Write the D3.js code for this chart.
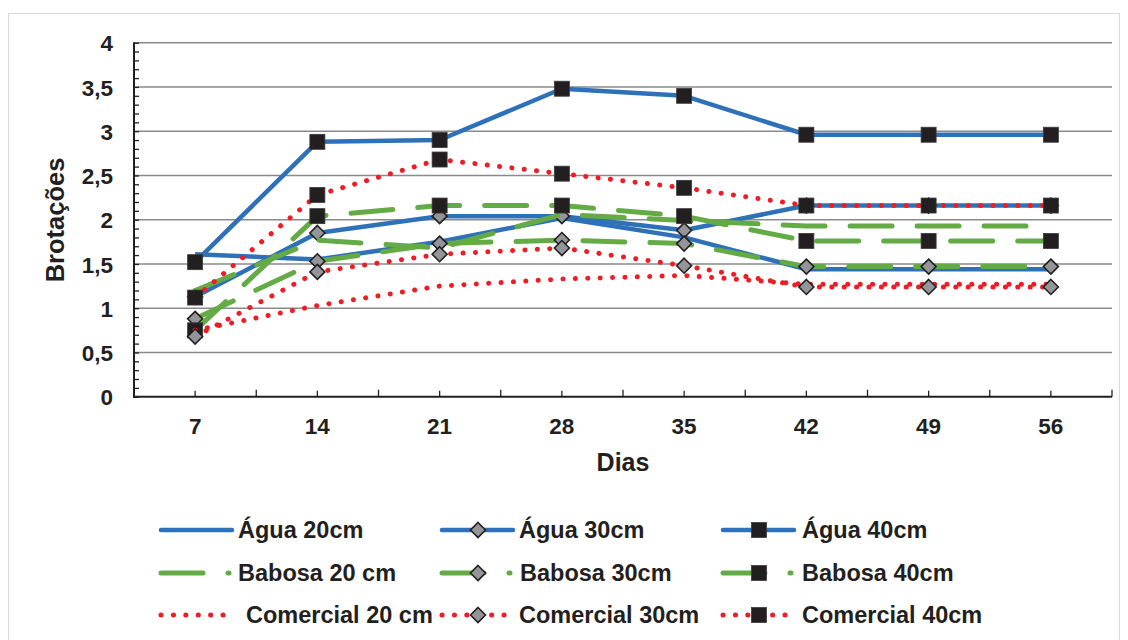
<!DOCTYPE html>
<html>
<head>
<meta charset="utf-8">
<script src="https://cdn.jsdelivr.net/npm/d3@7"></script>
<style>
  html, body { margin: 0; padding: 0; background: #fff; }
  svg text { font-family: "Liberation Sans", Arial, sans-serif; font-weight: bold; fill: #231f20; }
</style>
</head>
<body>
<svg id="chart" width="1128" height="640"></svg>
<script>
// ---- data ----
const days = ["7", "14", "21", "28", "35", "42", "49", "56"];
const yTicks = [0, 0.5, 1, 1.5, 2, 2.5, 3, 3.5, 4];
const yTickLabels = ["0", "0,5", "1", "1,5", "2", "2,5", "3", "3,5", "4"];

const agua20 = [1.61, 1.55, 1.75, 2.02, 1.80, 1.44, 1.44, 1.44];
const agua30 = [1.13, 1.85, 2.04, 2.04, 1.88, 2.16, 2.16, 2.16];
const agua40 = [1.52, 2.88, 2.90, 3.48, 3.40, 2.96, 2.96, 2.96];
const babosa20 = [1.20, 1.77, 1.68, 2.06, 1.99, 1.93, 1.93, 1.93];
const babosa30 = [0.88, 1.53, 1.73, 1.77, 1.73, 1.47, 1.47, 1.47];
const babosa40 = [0.75, 2.04, 2.16, 2.16, 2.04, 1.76, 1.76, 1.76];
const comercial20 = [0.75, 1.03, 1.25, 1.33, 1.37, 1.27, 1.27, 1.27];
const comercial30 = [0.68, 1.41, 1.61, 1.68, 1.48, 1.24, 1.24, 1.24];
const comercial40 = [1.12, 2.28, 2.68, 2.52, 2.36, 2.16, 2.16, 2.16];

const seriesNames = ["Água 20cm", "Água 30cm", "Água 40cm",
  "Babosa 20 cm", "Babosa 30cm", "Babosa 40cm",
  "Comercial 20 cm", "Comercial 30cm", "Comercial 40cm"];
const seriesValues = [agua20, agua30, agua40, babosa20, babosa30, babosa40, comercial20, comercial30, comercial40];

// ---- styles ----
const BLUE = "#2e71b8", GREEN = "#64ab46", RED = "#ee1c25";
const styleOf = i => {
  const fam = Math.floor(i / 3), size = i % 3;
  const base = fam === 0 ? { color: BLUE, width: 4.5, dash: null }
    : fam === 1 ? { color: GREEN, width: 5, dash: "42,25" }
    : { color: RED, width: 5, dash: "0.1,12.3" };
  return Object.assign({}, base, { marker: size === 0 ? null : size === 1 ? "diamond" : "square" });
};

const svg = d3.select("#chart");
const pL = 134, pR = 1112, pT = 42.7, pB = 396.7;

// outer frame
svg.append("rect").attr("x", 8.5).attr("y", 13.5).attr("width", 1111).attr("height", 640)
  .attr("fill", "none").attr("stroke", "#d9d9d9").attr("stroke-width", 1);

const x = d3.scaleBand().domain(days).range([pL, pR]).padding(0);
const cx = d => x(d) + x.bandwidth() / 2;
const y = d3.scaleLinear().domain([0, 4]).range([pB, pT]);

// gridlines
svg.append("g").selectAll("line").data(yTicks.filter(v => v > 0)).join("line")
  .attr("x1", pL).attr("x2", pR).attr("y1", d => y(d)).attr("y2", d => y(d))
  .attr("stroke", "#8a8a8a").attr("stroke-width", 1.5);

// minor y ticks (inward)
const minor = d3.range(0, 41).map(i => i / 10);
svg.append("g").attr("transform", `translate(${pL},0)`)
  .call(d3.axisRight(y).tickValues(minor).tickSize(5).tickFormat(""))
  .call(g => g.select(".domain").remove())
  .call(g => g.selectAll("line").attr("stroke", "#231f20").attr("stroke-width", 1.3));

// y axis labels
svg.append("g").attr("transform", `translate(${pL},0)`)
  .call(d3.axisLeft(y).tickValues(yTicks).tickSize(0).tickPadding(21)
    .tickFormat((d, i) => yTickLabels[i]))
  .call(g => g.select(".domain").remove())
  .call(g => g.selectAll("text").attr("font-size", 22.5).attr("dy", "0.36em")
    .style("font-family", "'Liberation Sans', Arial, sans-serif").style("font-weight", "bold").attr("fill", "#231f20"));

// x axis
svg.append("g").attr("transform", `translate(0,${pB})`)
  .call(d3.axisBottom(x).tickSizeInner(-6).tickSizeOuter(0).tickPadding(21))
  .call(g => g.select(".domain").remove())
  .call(g => g.selectAll("line").attr("stroke", "#231f20").attr("stroke-width", 1.3))
  .call(g => g.selectAll("text").attr("font-size", 22.5).attr("dy", "0.71em")
    .style("font-family", "'Liberation Sans', Arial, sans-serif").style("font-weight", "bold").attr("fill", "#231f20"));

// boundary ticks on x axis
svg.append("g").selectAll("line").data(days.map(d => x(d)).concat([pR])).join("line")
  .attr("x1", d => d).attr("x2", d => d).attr("y1", pB).attr("y2", pB - 7)
  .attr("stroke", "#231f20").attr("stroke-width", 1.3);

// axis lines
svg.append("line").attr("x1", pL).attr("x2", pL).attr("y1", pT - 0.5).attr("y2", pB + 1)
  .attr("stroke", "#231f20").attr("stroke-width", 2);
svg.append("line").attr("x1", pL - 1).attr("x2", pR).attr("y1", pB).attr("y2", pB)
  .attr("stroke", "#231f20").attr("stroke-width", 2);

// axis titles
svg.append("text").attr("x", 623).attr("y", 471).attr("text-anchor", "middle")
  .attr("font-size", 25).text("Dias");
svg.append("text").attr("transform", "translate(64,220) rotate(-90)").attr("text-anchor", "middle")
  .attr("font-size", 25.5).text("Brotações");

// markers
function drawMarker(g, kind, px, py) {
  if (kind === "square") {
    g.append("rect").attr("x", px - 7.5).attr("y", py - 7.5).attr("width", 15).attr("height", 15)
      .attr("fill", "#231f20").attr("stroke", "#3a3a3a").attr("stroke-width", 0.8);
  } else if (kind === "diamond") {
    const r = 7.5;
    g.append("path").attr("d", `M${px},${py - r}L${px + r},${py}L${px},${py + r}L${px - r},${py}Z`)
      .attr("fill", "#939598").attr("stroke", "#231f20").attr("stroke-width", 1.6);
  }
}

// series
const line = d3.line().x((d, i) => cx(days[i])).y(d => y(d));
seriesValues.forEach((vals, i) => {
  const s = styleOf(i);
  const g = svg.append("g");
  g.append("path").datum(vals).attr("d", line).attr("fill", "none")
    .attr("stroke", s.color).attr("stroke-width", s.width)
    .attr("stroke-linecap", s.dash ? "round" : "butt").attr("stroke-linejoin", "round")
    .attr("stroke-dasharray", s.dash);
  if (s.marker) vals.forEach((v, j) => drawMarker(g, s.marker, cx(days[j]), y(v)));
});

// legend
const colX = [161, 442, 723];
const rowY = [530, 573, 615];
const textX = [[238, 238, 246], [519, 520, 519], [802, 802, 802]];
seriesNames.forEach((name, i) => {
  const s = styleOf(i);
  const col = i % 3, row = Math.floor(i / 3);
  const x0 = colX[col], yy = rowY[row];
  const g = svg.append("g");
  const len = row === 0 ? 71 : row === 1 ? 68 : 64;
  g.append("line").attr("x1", x0).attr("x2", x0 + len).attr("y1", yy).attr("y2", yy)
    .attr("stroke", s.color).attr("stroke-width", s.width)
    .attr("stroke-linecap", "round").attr("stroke-dasharray", s.dash);
  if (s.marker) drawMarker(g, s.marker, x0 + 36, yy);
  g.append("text").attr("x", textX[col][row]).attr("y", yy + 8).attr("font-size", 23.5).text(name);
});
</script>
</body>
</html>
